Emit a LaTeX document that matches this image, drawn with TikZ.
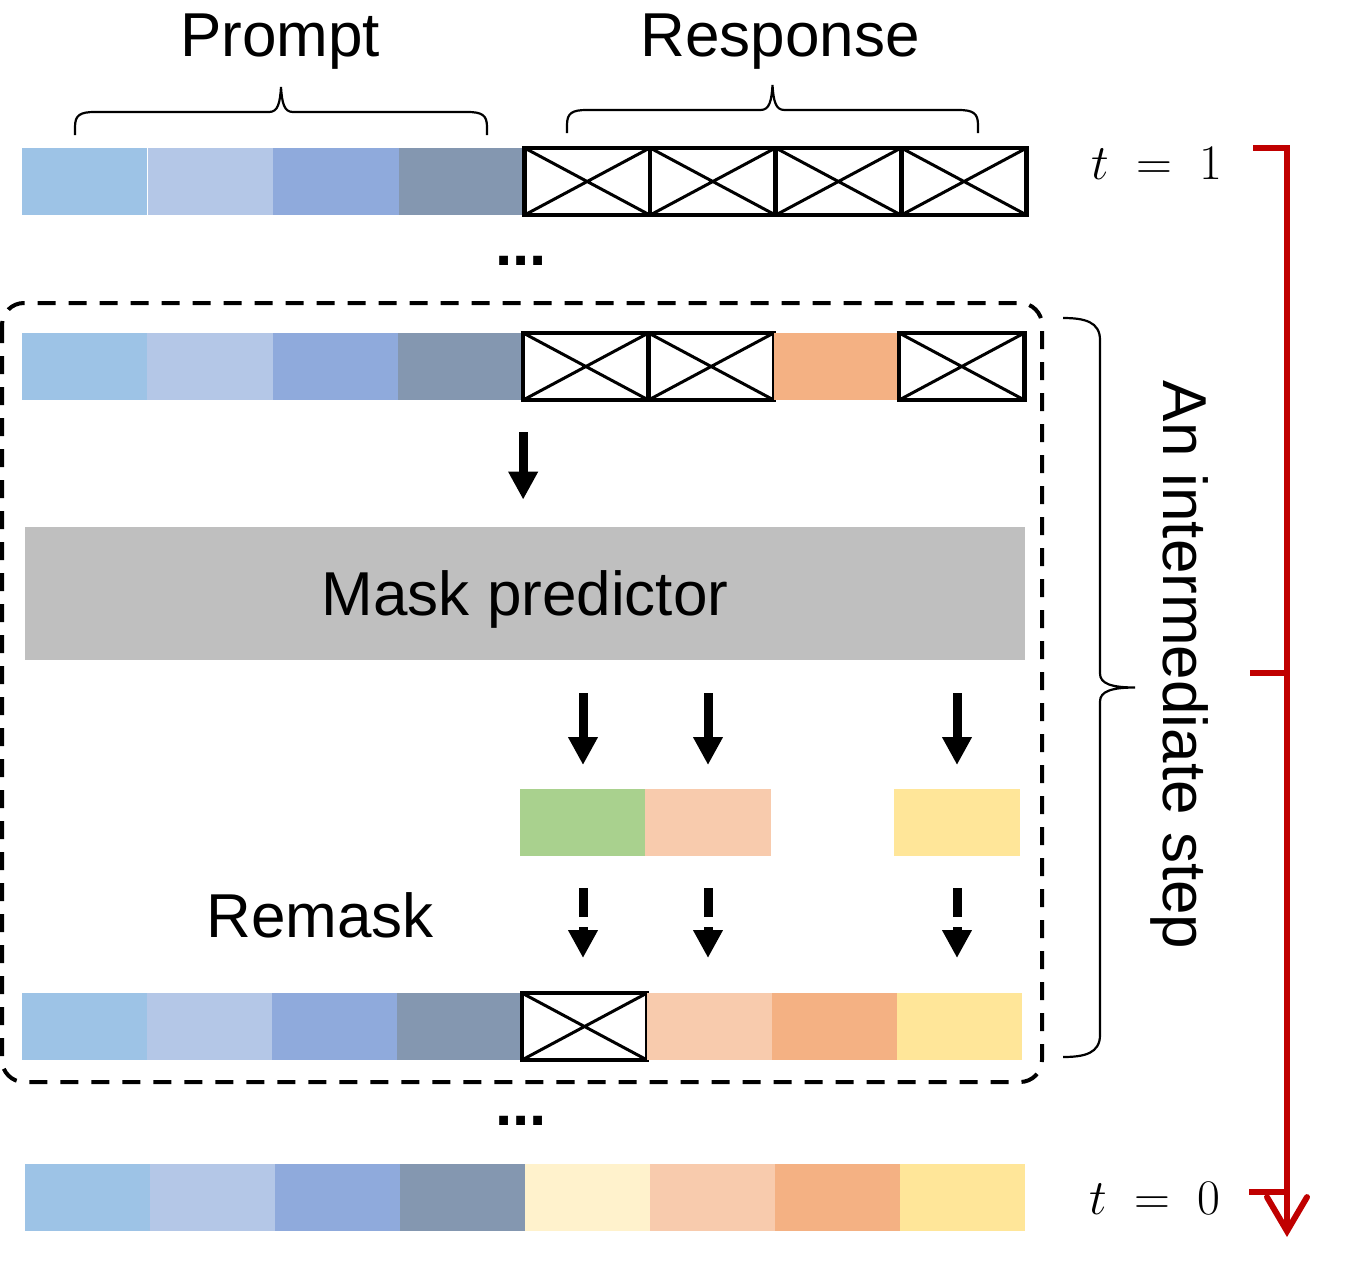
\documentclass[tikz,border=0pt]{standalone}
\usepackage{fontspec}
\setmainfont{Liberation Sans}
\usetikzlibrary{arrows.meta, calc}

\definecolor{blueA}{HTML}{9DC3E6}
\definecolor{blueB}{HTML}{B4C7E7}
\definecolor{blueC}{HTML}{8FAADC}
\definecolor{blueD}{HTML}{8497B0}
\definecolor{orangeTok}{HTML}{F4B183}
\definecolor{peachTok}{HTML}{F8CBAD}
\definecolor{yellowTok}{HTML}{FFE699}
\definecolor{creamTok}{HTML}{FFF2CC}
\definecolor{greenTok}{HTML}{A9D18E}
\definecolor{predGray}{HTML}{BFBFBF}
\definecolor{timeRed}{HTML}{C00000}

\newcommand{\figfont}{\fontsize{31}{37}\selectfont}
\newcommand{\timefont}{\fontsize{36}{43}\selectfont}

% brace over a group of tokens: left x, right x, base y
\newcommand{\tokbrace}[3]{%
  \draw[bracefig] (#1,#3) -- (#1,#3-8) .. controls (#1,#3-20) and (#1+5,#3-23) .. (#1+20,#3-23)
    -- ({(#1+#2)/2-12},#3-23) .. controls ({(#1+#2)/2-3},#3-23) and ({(#1+#2)/2-1},#3-32) .. ({(#1+#2)/2},#3-48)
    .. controls ({(#1+#2)/2+1},#3-32) and ({(#1+#2)/2+3},#3-23) .. ({(#1+#2)/2+12},#3-23)
    -- (#2-20,#3-23) .. controls (#2-5,#3-23) and (#2,#3-20) .. (#2,#3-8) -- (#2,#3);}
% brace to the right of a step: base x, top y, bottom y
\newcommand{\stepbrace}[3]{%
  \draw[bracefig] (#1,#2) .. controls (#1+22,#2) and (#1+37,#2+4) .. (#1+37,#2+22)
    -- (#1+37,{(#2+#3)/2-14}) .. controls (#1+37,{(#2+#3)/2-4}) and (#1+48,{(#2+#3)/2}) .. (#1+72,{(#2+#3)/2})
    .. controls (#1+48,{(#2+#3)/2}) and (#1+37,{(#2+#3)/2+4}) .. (#1+37,{(#2+#3)/2+14})
    -- (#1+37,#3-22) .. controls (#1+37,#3-4) and (#1+22,#3) .. (#1,#3);}

\tikzset{
  tok/.style={minimum width=62.6pt, minimum height=33.5pt, inner sep=0pt, outer sep=0pt},
  b1/.style={fill=blueA}, b2/.style={fill=blueB}, b3/.style={fill=blueC}, b4/.style={fill=blueD},
  org/.style={fill=orangeTok}, pch/.style={fill=peachTok},
  yel/.style={fill=yellowTok}, crm/.style={fill=creamTok},
  msk/.style={draw, fill=white, line width=2.2pt,
    path picture={\draw[line width=1.5pt]
      (path picture bounding box.north west) -- (path picture bounding box.south east)
      (path picture bounding box.south west) -- (path picture bounding box.north east);}},
  bigarrow/.style={line width=4.5pt, -{Triangle[width=14pt, length=14pt]}},
  timeline/.style={draw=timeRed, line width=3pt},
  bracefig/.style={line width=1.1pt},
}

\begin{document}
\begin{tikzpicture}[x=0.5pt, y=-0.5pt, font=\figfont]
\useasboundingbox (0,0) rectangle (1360,1264);

% token rows
\foreach \s [count=\i] in {b1,b2,b3,b4,msk,msk,msk,msk}
  \node[tok,\s] (t1-\i) at ({22+125.6*(\i-0.5)},181.5) {};
\foreach \s [count=\i] in {b1,b2,b3,b4,msk,msk,org,msk}
  \node[tok,\s] (cur-\i) at ({22+125.3*(\i-0.5)},366.5) {};
\foreach \s [count=\i] in {b1,b2,b3,b4,msk,pch,org,yel}
  \node[tok,\s] (new-\i) at ({22+125*(\i-0.5)},1026.5) {};
\foreach \s [count=\i] in {b1,b2,b3,b4,crm,pch,org,yel}
  \node[tok,\s] (t0-\i) at ({25+125*(\i-0.5)},1197.5) {};

% braces and labels
\tokbrace{75}{487}{135}
\tokbrace{567}{978}{133}
\node (prompt) at (280,42) {Prompt};
\node (response) at (780,42) {Response};

\node[font=\figfont\bfseries] (dotsA) at (521,261) {...};
\node[font=\figfont\bfseries] (dotsB) at (521,1121) {...};

% one step
\draw[line width=2pt, dash pattern=on 9pt off 6.5pt, rounded corners=11pt] (2,303) rectangle (1042,1082);

\node[fill=predGray, minimum width=500pt, minimum height=66.5pt, inner sep=0pt] (predictor) at (525,593.5) {\raisebox{-3pt}[\height][\depth]{Mask predictor}};

\node[tok,fill=greenTok] (pred5) at (583,822.5) {};
\node[tok,fill=peachTok] (pred6) at (708,822.5) {};
\node[tok,fill=yellowTok] (pred8) at (957,822.5) {};

\draw[bigarrow, shorten <=16pt, shorten >=13.5pt] (cur-4.south east) -- (cur-4.south east |- predictor.north);
\foreach \i in {5,6,8}
  \draw[bigarrow, shorten <=16.5pt, shorten >=12pt] (predictor.south -| pred\i.north) -- (pred\i.north);
\foreach \i in {5,6,8}
  \draw[bigarrow, dash pattern=on 14.5pt off 5pt, shorten <=16pt, shorten >=17.5pt] (pred\i.south) -- (pred\i.south |- new-\i.north);

\node (remask) at (320,915) {Remask};

\stepbrace{1063}{318}{1057}
\node[rotate=-90] (step) at (1180,665) {An intermediate step};

% time axis
\coordinate (tTop) at (1287,148);
\coordinate (tMid) at (1287,673);
\coordinate (tLow) at (1287,1192);
\coordinate (tEnd) at (1287,1237);
\draw[timeline, -{Straight Barb[length=17pt, width=20pt, line cap=round]}] ($(tTop)+(-34,0)$) -- (tTop) -- (tEnd);
\draw[timeline] ($(tMid)+(-37,0)$) -- (tMid);
\draw[timeline] ($(tLow)+(-38,0)$) -- (tLow);
\node[font=\timefont] (tOne) at (1157,163) {$t \;=\; 1$};
\node[font=\timefont] (tZero) at (1155,1198) {$t \;=\; 0$};
\end{tikzpicture}
\end{document}
